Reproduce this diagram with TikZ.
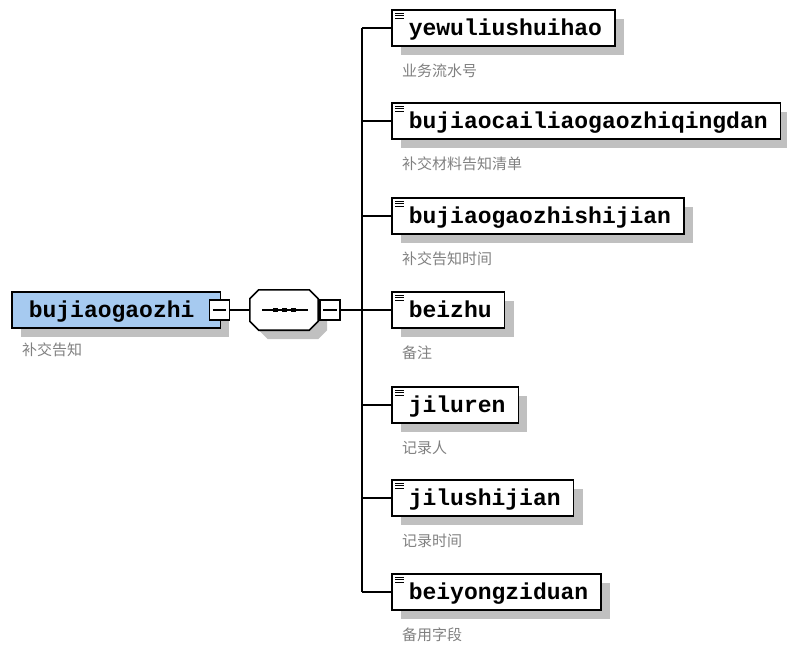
\documentclass[tikz,border=0pt]{standalone}
\usepackage{fontspec}
\usetikzlibrary{shadows}
\newfontfamily\elemfont{Liberation Mono}
\newfontfamily\cjk{Noto Sans CJK SC}
\definecolor{rootblue}{RGB}{166,202,240}
\definecolor{shadowgray}{RGB}{192,192,192}
\definecolor{notegray}{RGB}{128,128,128}

\begin{document}
\begin{tikzpicture}[x=1pt,y=-1pt,
    boxshadow/.style={drop shadow={shadow xshift=9pt,shadow yshift=-9pt,fill=shadowgray,opacity=1}},
    elem/.style={draw,line width=1.6pt,fill=white,anchor=west,boxshadow,
        minimum height=36pt,inner xsep=13pt,text height=15pt,text depth=0pt,
        font=\elemfont\bfseries\fontsize{23}{23}\selectfont},
    minusbox/.style={draw,line width=1.2pt,fill=white,minimum size=20pt,inner sep=0pt},
    note/.style={anchor=west,inner sep=0pt,text=notegray,
        font=\cjk\fontsize{15}{15}\selectfont}]
  \useasboundingbox (0,0) rectangle (787,646);

  \node[elem,fill=rootblue] (root) at (11,310) {\hspace*{4pt}bujiaogaozhi\hspace*{13pt}};
  \node[note] (root-note) at (22,350) {补交告知};
  \node[minusbox] (rootminus) at (219.5,310) {};
  \node[minimum width=68pt,minimum height=40pt,inner sep=0pt] (seq) at (284,310) {};
  \node[minusbox] (seqminus) at (330,310) {};
  \coordinate (bus) at (362,310);

  \fill[shadowgray,transform canvas={xshift=9pt,yshift=-9pt}]
     ([xshift=9]seq.north west) -- ([xshift=-9]seq.north east) --
     ([yshift=-9]seq.north east) -- ([yshift=9]seq.south east) --
     ([xshift=-9]seq.south east) -- ([xshift=9]seq.south west) --
     ([yshift=9]seq.south west) -- ([yshift=-9]seq.north west) -- cycle;
  \draw[line width=1.6pt,fill=white]
     ([xshift=9]seq.north west) -- ([xshift=-9]seq.north east) --
     ([yshift=-9]seq.north east) -- ([yshift=9]seq.south east) --
     ([xshift=-9]seq.south east) -- ([xshift=9]seq.south west) --
     ([yshift=9]seq.south west) -- ([yshift=-9]seq.north west) -- cycle;
  \node[minusbox] at (seqminus) {};

  \draw[line width=1.2pt]
     ([xshift=4]rootminus.west) -- ([xshift=-4]rootminus.east);
  \draw[line width=1.2pt]
     ([xshift=4]seqminus.west) -- ([xshift=-4]seqminus.east);
  \draw[line width=1.2pt]
     ([xshift=-22]seq.center) -- ([xshift=24]seq.center);
  \foreach \d in {-9,0,9}
     \fill ([shift={(\d-2.5,-2)}]seq.center) rectangle ++(5,4);

  \draw[line width=1.2pt] (rootminus.east) -- (seq.west);
  \draw[line width=1.2pt] (seqminus.east) -- (bus);

  \foreach \n/\y/\t/\l in {
      yewu/28/yewuliushuihao/业务流水号,
      qingdan/121/bujiaocailiaogaozhiqingdan/补交材料告知清单,
      gzsj/216/bujiaogaozhishijian/补交告知时间,
      beizhu/310/beizhu/备注,
      jiluren/405/jiluren/记录人,
      jlsj/498/jilushijian/记录时间,
      beiyong/592/beiyongziduan/备用字段} {
    \node[elem] (\n) at (391,\y) {\hspace*{4pt}\t};
    \node[note] (\n-note) at (402,\y+43) {\l};
    \foreach \k in {0,1,2}
       \draw[line width=1pt] ([shift={(4,4+2.5*\k)}]\n.north west) -- ++(9,0);
    \draw[line width=1.2pt] (\n.west) -- (\n.west -| bus);
  }
  \draw[line width=1.2pt] (yewu.west -| bus) -- (beiyong.west -| bus);
\end{tikzpicture}
\end{document}
